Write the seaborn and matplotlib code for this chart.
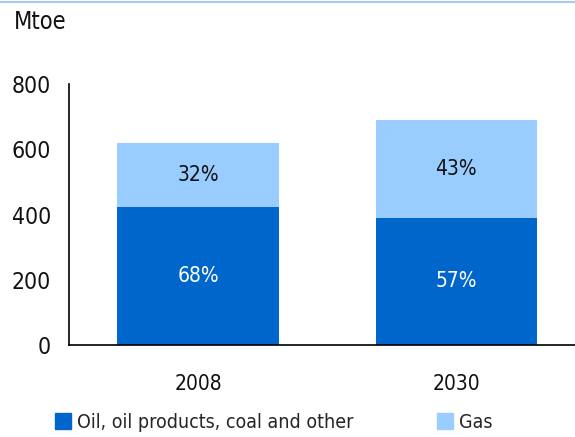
import pandas as pd
import matplotlib.pyplot as plt
import matplotlib.patches as mpatches
import seaborn as sns

# Datos
years = ['2008', '2030']
oil = [423, 390]
gas = [196, 300]
oil_pct = ['68%', '57%']
gas_pct = ['32%', '43%']

df = pd.DataFrame({'year': years, 'oil': oil, 'gas': gas})
df['total'] = df['oil'] + df['gas']

OIL_COLOR = '#0066CC'
GAS_COLOR = '#99CCFF'

sns.set_theme(style='white')
plt.rcParams['font.family'] = ['DejaVu Sans']
plt.rcParams['font.stretch'] = 'condensed'

fig = plt.figure(figsize=(5.75, 4.37), dpi=100)
ax = fig.add_axes([69 / 575, 92 / 437, 506 / 575, 261 / 437])

sns.barplot(data=df, x='year', y='total', color=GAS_COLOR, width=0.625,
            saturation=1, linewidth=0, ax=ax)
sns.barplot(data=df, x='year', y='oil', color=OIL_COLOR, width=0.625,
            saturation=1, linewidth=0, ax=ax)

for i in range(len(years)):
    ax.text(i, oil[i] / 2, oil_pct[i], ha='center', va='center',
            color='white', fontsize=15)
    ax.text(i, oil[i] + gas[i] / 2, gas_pct[i], ha='center', va='center',
            color='#111111', fontsize=15)

ax.set_ylim(0, 800)
ax.set_xlim(-0.5, 1.46)
ax.set_yticks([0, 200, 400, 600, 800])
ax.tick_params(axis='y', labelsize=16.5, pad=13, length=0, colors='#111111')
ax.tick_params(axis='x', labelsize=15, pad=21, length=0, colors='#111111')
ax.set_xlabel('')
ax.set_ylabel('')
sns.despine(ax=ax)
for s in ['left', 'bottom']:
    ax.spines[s].set_color('black')
    ax.spines[s].set_linewidth(1.2)

fig.text(14 / 575, 1 - 22 / 437, 'Mtoe', fontsize=17, va='center', ha='left',
         color='#111111')

# línea superior
fig.add_artist(plt.Line2D([0, 1], [1 - 1.5 / 437, 1 - 1.5 / 437],
                          color='#A8C8F0', linewidth=1.5,
                          transform=fig.transFigure))

h_oil = mpatches.Patch(color=OIL_COLOR, label='Oil, oil products, coal and other')
h_gas = mpatches.Patch(color=GAS_COLOR, label='Gas')
leg_kw = dict(loc='center left', frameon=False, fontsize=14, handlelength=0.82,
              handleheight=0.9, handletextpad=0.3, borderaxespad=0, borderpad=0)
leg1 = fig.legend(handles=[h_oil], bbox_to_anchor=(55 / 575, 1 - 422 / 437), **leg_kw)
fig.legend(handles=[h_gas], bbox_to_anchor=(437 / 575, 1 - 422 / 437), **leg_kw)

fig.savefig('out.png', dpi=100)
plt.close()
